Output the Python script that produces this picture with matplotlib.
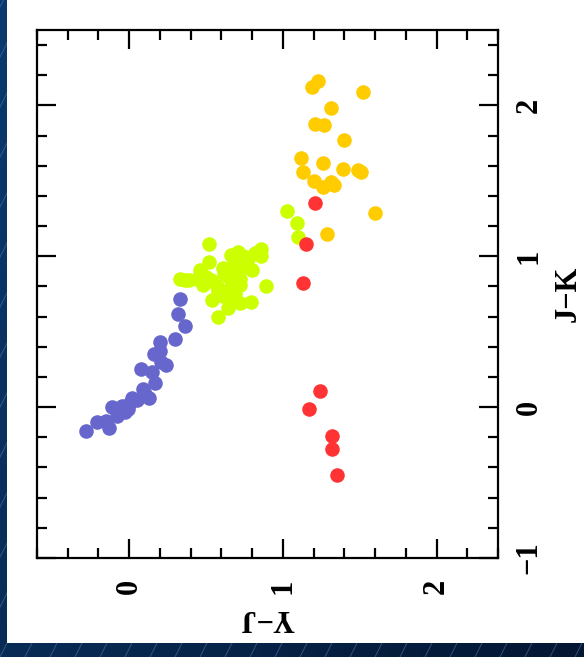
import matplotlib
matplotlib.use("Agg")
import matplotlib.pyplot as plt
import numpy as np
from matplotlib.ticker import MultipleLocator
from matplotlib.patches import Rectangle

# colour-colour data: (Y-J, J-K)
blue_yj = [0.33, 0.32, 0.36, 0.30, 0.20, 0.20, 0.16, 0.21, 0.24, 0.08, 0.15, 0.17,
           0.09, 0.13, 0.02, -0.05, -0.11, -0.01, -0.08, -0.15, -0.21, -0.13, -0.28,
           0.05, 0.10, -0.03, 0.00]
blue_jk = [0.72, 0.62, 0.54, 0.45, 0.43, 0.37, 0.35, 0.30, 0.28, 0.25, 0.23, 0.16,
           0.12, 0.06, 0.06, 0.01, 0.00, -0.01, -0.06, -0.09, -0.10, -0.14, -0.16,
           0.05, 0.09, -0.03, 0.02]

green_yj = [1.03, 1.09, 1.10, 0.52, 0.86, 0.86, 0.71, 0.66, 0.77, 0.52, 0.68, 0.61,
            0.80, 0.46, 0.33, 0.39, 0.44, 0.53, 0.65, 0.72, 0.89, 0.48, 0.57, 0.66,
            0.72, 0.54, 0.61, 0.69, 0.66, 0.72, 0.79, 0.64, 0.58,
            0.62, 0.70, 0.75, 0.58, 0.50, 0.36, 0.82, 0.74]
green_jk = [1.30, 1.22, 1.13, 1.08, 1.05, 1.00, 1.03, 1.01, 0.98, 0.96, 0.96, 0.92,
            0.91, 0.91, 0.85, 0.84, 0.85, 0.84, 0.86, 0.85, 0.80, 0.81, 0.80, 0.80,
            0.81, 0.71, 0.74, 0.75, 0.70, 0.69, 0.70, 0.66, 0.60,
            0.88, 0.90, 0.93, 0.77, 0.86, 0.84, 1.02, 1.00]

orange_yj = [1.19, 1.23, 1.52, 1.31, 1.21, 1.27, 1.40, 1.12, 1.26, 1.39, 1.49, 1.13,
             1.20, 1.26, 1.31, 1.33, 1.60, 1.29, 1.51]
orange_jk = [2.12, 2.16, 2.09, 1.98, 1.88, 1.87, 1.77, 1.65, 1.62, 1.58, 1.57, 1.56,
             1.50, 1.46, 1.49, 1.47, 1.29, 1.15, 1.56]

red_yj = [1.21, 1.15, 1.13, 1.24, 1.17, 1.32, 1.32, 1.35]
red_jk = [1.35, 1.08, 0.82, 0.11, -0.01, -0.19, -0.28, -0.45]

W, H = 584, 657
fig = plt.figure(figsize=(W / 100, H / 100), dpi=100)

# dark blue striped backdrop with a white sheet on it
bg = fig.add_axes([0, 0, 1, 1])
bg.set_xlim(0, W)
bg.set_ylim(H, 0)
bg.axis("off")
gx, gy = np.meshgrid(np.linspace(0, 1, 200), np.linspace(0, 1, 200))
grad = 0.6 * gx + 0.4 * gy
cmap = matplotlib.colors.LinearSegmentedColormap.from_list("bg", ["#0b3a6e", "#041632"])
bg.imshow(grad, cmap=cmap, extent=[0, W, H, 0], aspect="auto", zorder=0)
for x0 in np.arange(-400, W + 50, 25):
    bg.plot([x0, x0 + H * 0.5], [H, 0], color="#5a7fb0", lw=0.6, alpha=0.6, zorder=1)
bg.add_patch(Rectangle((7, 0), W - 7, 643, facecolor="white", edgecolor="none", zorder=2))

ax = fig.add_axes([37 / W, 1 - 558 / H, 461 / W, 528 / H])
ax.set_facecolor("white")
ms = 110
ax.scatter(blue_yj, blue_jk, s=ms, color="#6666cc", linewidths=0, zorder=3)
ax.scatter(green_yj, green_jk, s=ms, color="#ccff00", linewidths=0, zorder=4)
ax.scatter(orange_yj, orange_jk, s=ms, color="#ffcc00", linewidths=0, zorder=5)
ax.scatter(red_yj, red_jk, s=ms, color="#ff3333", linewidths=0, zorder=6)

ax.set_xlim(-0.6, 2.4)
ax.set_ylim(-1.0, 2.5)
ax.xaxis.set_major_locator(MultipleLocator(1))
ax.xaxis.set_minor_locator(MultipleLocator(0.2))
ax.yaxis.set_major_locator(MultipleLocator(1))
ax.yaxis.set_minor_locator(MultipleLocator(0.2))
for sp in ax.spines.values():
    sp.set_linewidth(1.6)
ax.tick_params(which="both", direction="in", top=True, bottom=True, left=True, right=True,
               labelleft=False, labelright=True, labelbottom=True, width=1.6)
ax.tick_params(which="major", length=14)
ax.tick_params(which="minor", length=7)
ax.tick_params(axis="x", which="major", pad=15)
ax.tick_params(axis="y", which="major", pad=12)

fnt = dict(family=["Liberation Serif", "DejaVu Serif"], size=22, weight="bold")
ax.set_xticks([0, 1, 2])
ax.set_xticklabels(["0", "1", "2"], rotation=90, va="top", ha="center", **fnt)
ax.set_yticks([-1, 0, 1, 2])
ax.set_yticklabels(["\u22121", "0", "1", "2"], rotation=90, va="center", ha="left", **fnt)

ax.set_xlabel("Y\u2212J", rotation=180, labelpad=6, **fnt)
ax.yaxis.set_label_position("right")
ax.set_ylabel("J\u2212K", rotation=90, labelpad=7, **fnt)

fig.savefig("out.png", dpi=100)
